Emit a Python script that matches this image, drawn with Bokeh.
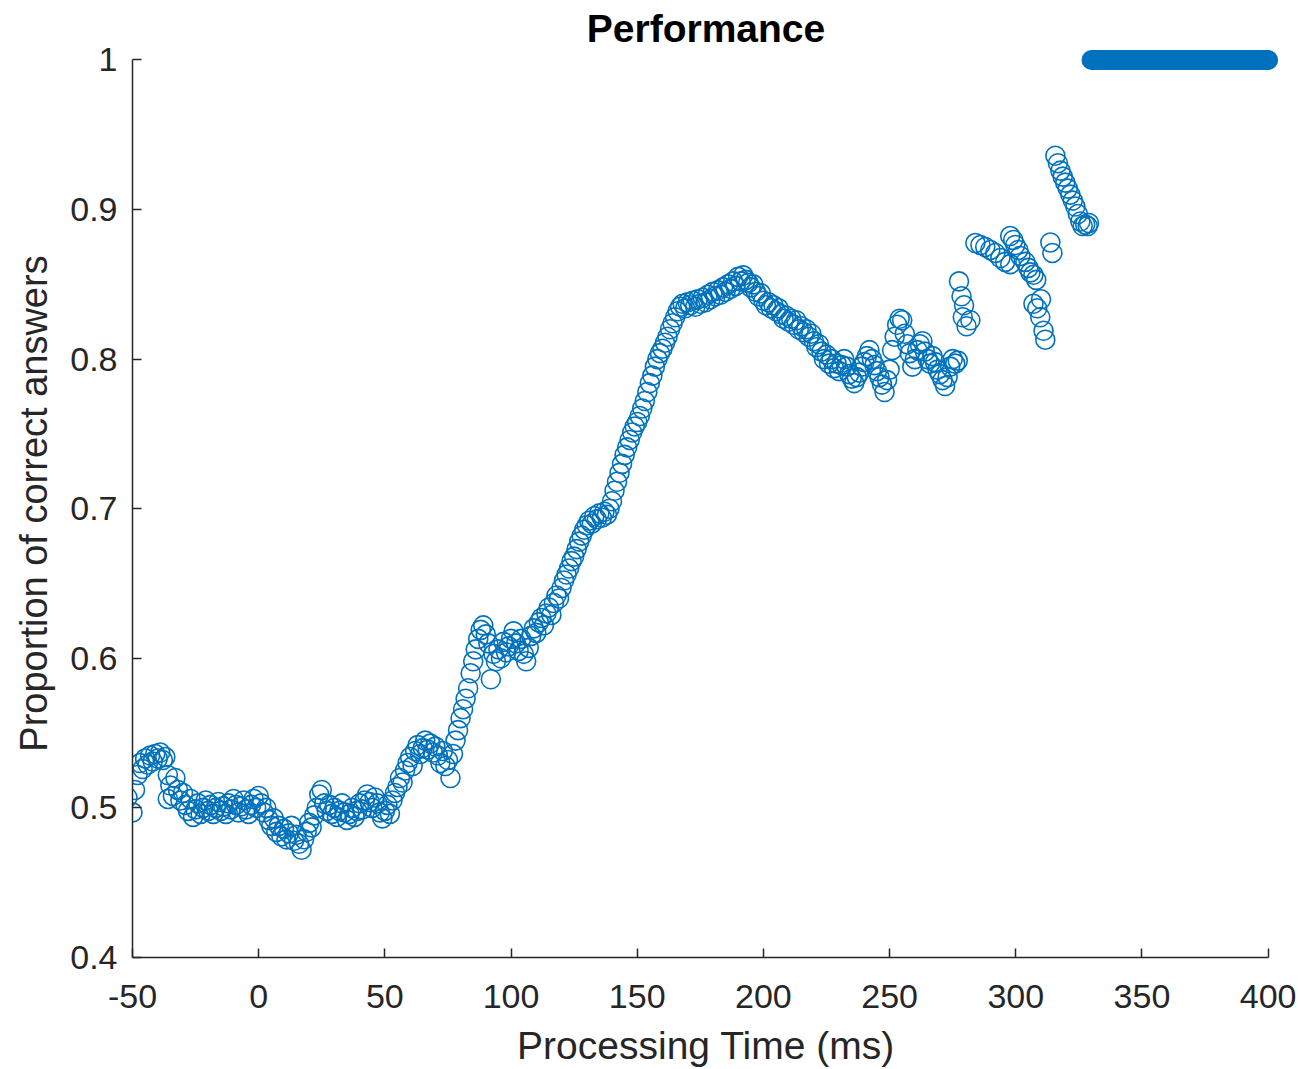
from bokeh.plotting import figure
from bokeh.models import Range1d, FixedTicker
from bokeh.embed import file_html
from bokeh.resources import INLINE

# ---- data ----
time_ms = [
    -52, -50, -49, -48, -47, -46, -45, -44, -43, -42, -41, -40, -39, -38, -37, -36, -36, -35, -34, -33,
    -32, -31, -30, -29, -28, -27, -26, -25, -24, -23, -22, -21, -20, -19, -18, -17, -16, -15, -14, -13,
    -12, -11, -10, -9, -8, -7, -6, -5, -4, -3, -2, -1, 0, 1, 2, 3, 4, 5, 6, 7,
    8, 9, 10, 11, 12, 13, 14, 15, 16, 17, 18, 19, 20, 21, 22, 23, 24, 25, 26, 27,
    28, 29, 30, 31, 32, 33, 34, 35, 36, 37, 38, 39, 40, 41, 42, 43, 44, 45, 46, 47,
    48, 49, 50, 51, 52, 53, 54, 55, 56, 57, 58, 59, 60, 61, 62, 63, 64, 65, 66, 67,
    68, 69, 70, 71, 72, 73, 74, 75, 76, 77, 78, 79, 80, 81, 82, 83, 84, 85, 86, 87,
    88, 89, 90, 91, 92, 93, 94, 95, 96, 97, 98, 99, 100, 101, 102, 103, 104, 105, 106, 107,
    108, 109, 110, 111, 112, 113, 114, 115, 116, 117, 118, 119, 120, 121, 122, 123, 124, 125, 126, 127,
    128, 129, 130, 131, 132, 133, 134, 135, 136, 137, 138, 139, 140, 141, 142, 143, 144, 145, 146, 147,
    148, 149, 150, 151, 152, 153, 154, 155, 156, 157, 158, 159, 160, 161, 162, 163, 164, 165, 166, 167,
    168, 169, 170, 171, 172, 173, 174, 175, 176, 177, 178, 179, 180, 181, 182, 183, 184, 185, 186, 187,
    188, 189, 190, 191, 192, 193, 194, 195, 196, 197, 198, 199, 200, 201, 202, 203, 204, 205, 206, 207,
    208, 209, 210, 211, 212, 213, 214, 215, 216, 217, 218, 219, 220, 221, 222, 223, 224, 225, 226, 227,
    228, 229, 230, 231, 232, 233, 234, 235, 236, 237, 238, 239, 240, 241, 242, 243, 244, 245, 246, 247,
    248, 249, 250, 251, 252, 253, 254, 255, 256, 257, 258, 259, 260, 261, 262, 263, 264, 265, 266, 267,
    268, 269, 270, 271, 272, 273, 274, 275, 276, 277,
    277.5, 278.5, 279.5, 279, 280.5, 282,
    284.0, 286.0, 287.9, 289.9, 291.9, 293.9, 295.8, 297.8,
    297.8, 299.0, 299.8, 301.0, 301.8, 303.8, 305.0, 305.8, 307.0, 308.1,
    313.7, 314.5,
    307.0, 308.5, 309.7, 311.0, 311.7, 310.0,
    315.7, 316.7, 317.7, 318.6, 319.6, 320.6, 321.6, 322.6, 323.6, 324.6, 325.6, 326.5, 327.5, 328.5, 329.0,
]

prop_correct = [
    0.507, 0.497, 0.512, 0.522, 0.530, 0.526, 0.533, 0.529, 0.535, 0.531, 0.536, 0.533, 0.537, 0.532, 0.534, 0.522, 0.506, 0.515, 0.508, 0.520,
    0.512, 0.505, 0.510, 0.502, 0.498, 0.506, 0.494, 0.499, 0.503, 0.496, 0.500, 0.505, 0.498, 0.502, 0.496, 0.500, 0.504, 0.498, 0.501, 0.496,
    0.503, 0.499, 0.506, 0.502, 0.497, 0.501, 0.505, 0.499, 0.496, 0.502, 0.506, 0.500, 0.508, 0.503, 0.497, 0.500, 0.492, 0.488, 0.493, 0.484,
    0.488, 0.481, 0.486, 0.479, 0.483, 0.488, 0.478, 0.482, 0.476, 0.472, 0.479, 0.484, 0.490, 0.487, 0.495, 0.500, 0.509, 0.512, 0.503, 0.498,
    0.502, 0.496, 0.500, 0.494, 0.498, 0.503, 0.497, 0.492, 0.496, 0.500, 0.494, 0.498, 0.503, 0.499, 0.505, 0.509, 0.504, 0.500, 0.507, 0.503,
    0.497, 0.493, 0.498, 0.502, 0.496, 0.505, 0.510, 0.514, 0.520, 0.517, 0.525, 0.530, 0.534, 0.528, 0.538, 0.542, 0.536, 0.540, 0.545, 0.539,
    0.543, 0.537, 0.541, 0.535, 0.530, 0.538, 0.528, 0.532, 0.520, 0.536, 0.545, 0.552, 0.560, 0.566, 0.573, 0.580, 0.590, 0.598, 0.606, 0.613,
    0.619, 0.622, 0.616, 0.610, 0.586, 0.603, 0.598, 0.606, 0.600, 0.611, 0.604, 0.608, 0.613, 0.618, 0.610, 0.605, 0.613, 0.603, 0.598, 0.607,
    0.615, 0.620, 0.617, 0.624, 0.627, 0.622, 0.630, 0.634, 0.629, 0.637, 0.642, 0.640, 0.647, 0.652, 0.656, 0.660, 0.665, 0.668, 0.673, 0.678,
    0.682, 0.686, 0.689, 0.692, 0.690, 0.695, 0.693, 0.697, 0.694, 0.698, 0.696, 0.700, 0.705, 0.712, 0.718, 0.724, 0.730, 0.736, 0.741, 0.746,
    0.751, 0.755, 0.758, 0.762, 0.767, 0.772, 0.778, 0.784, 0.789, 0.795, 0.800, 0.804, 0.807, 0.811, 0.815, 0.820, 0.824, 0.828, 0.832, 0.835,
    0.837, 0.834, 0.838, 0.836, 0.839, 0.835, 0.840, 0.837, 0.841, 0.838, 0.843, 0.840, 0.845, 0.842, 0.846, 0.843, 0.848, 0.845, 0.850, 0.847,
    0.852, 0.849, 0.855, 0.852, 0.856, 0.853, 0.851, 0.848, 0.850, 0.845, 0.842, 0.844, 0.839, 0.836, 0.838, 0.834, 0.836, 0.832, 0.834, 0.830,
    0.827, 0.829, 0.825, 0.827, 0.823, 0.826, 0.820, 0.822, 0.818, 0.820, 0.815, 0.817, 0.812, 0.808, 0.810, 0.805, 0.800, 0.803, 0.797, 0.800,
    0.794, 0.797, 0.792, 0.796, 0.800, 0.795, 0.790, 0.787, 0.784, 0.788, 0.791, 0.795, 0.798, 0.802, 0.806, 0.800, 0.796, 0.792, 0.788, 0.783,
    0.778, 0.786, 0.793, 0.806, 0.815, 0.823, 0.827, 0.826, 0.817, 0.810, 0.804, 0.795, 0.800, 0.806, 0.810, 0.812, 0.805, 0.800, 0.797, 0.802,
    0.798, 0.793, 0.790, 0.786, 0.782, 0.788, 0.795, 0.800, 0.797, 0.799,
    0.852, 0.842, 0.836, 0.828, 0.822, 0.826,
    0.8776, 0.8763, 0.875, 0.873, 0.871, 0.8676, 0.865, 0.8635,
    0.8823, 0.8797, 0.8763, 0.873, 0.869, 0.865, 0.861, 0.858, 0.8564, 0.853,
    0.878, 0.871,
    0.837, 0.834, 0.828, 0.819, 0.813, 0.840,
    0.936, 0.931, 0.926, 0.922, 0.918, 0.914, 0.910, 0.906, 0.902, 0.897, 0.892, 0.889, 0.890, 0.889, 0.891,
]

# significance bar (time window where performance is significant)
sig_start = [330]
sig_end = [400]
sig_level = [1.0]

x_ticks = [-50, 0, 50, 100, 150, 200, 250, 300, 350, 400]
x_tick_labels = ["-50", "0", "50", "100", "150", "200", "250", "300", "350", "400"]
y_ticks = [0.4, 0.5, 0.6, 0.7, 0.8, 0.9, 1.0]
y_tick_labels = ["0.4", "0.5", "0.6", "0.7", "0.8", "0.9", "1"]

BLUE = "#0072BD"
AXC = "#262626"
FONT = "Liberation Sans"

p = figure(
    frame_width=1147, frame_height=908,
    x_range=Range1d(-50, 404.5), y_range=Range1d(0.4, 1.007),
    output_backend="svg", toolbar_location=None,
    min_border_left=132, min_border_right=19, min_border_top=49, min_border_bottom=112,
    title="Performance",
)
p.outline_line_color = None
p.xgrid.visible = False
p.ygrid.visible = False
p.background_fill_color = "white"
p.border_fill_color = "white"

p.title.text_font = FONT
p.title.text_font_size = "39px"
p.title.text_font_style = "bold"
p.title.text_color = "black"
p.title.align = "center"
p.title.standoff = 0
p.title.offset = -7

for ax in (p.xaxis[0], p.yaxis[0]):
    ax.axis_line_color = AXC
    ax.axis_line_width = 1.5
    ax.major_tick_line_color = AXC
    ax.major_tick_line_width = 1.5
    ax.major_tick_in = 9
    ax.major_tick_out = 0
    ax.minor_tick_line_color = None
    ax.major_label_text_font = FONT
    ax.major_label_text_font_size = "34px"
    ax.major_label_text_color = AXC
    ax.axis_label_text_font = FONT
    ax.axis_label_text_font_style = "normal"
    ax.axis_label_text_color = AXC

p.xaxis.bounds = (-50, 400)
p.yaxis.bounds = (0.4, 1.0)
p.xaxis.ticker = FixedTicker(ticks=x_ticks)
p.yaxis.ticker = FixedTicker(ticks=y_ticks)
p.xaxis.major_label_overrides = {t: s for t, s in zip(x_ticks, x_tick_labels)}
p.yaxis.major_label_overrides = {t: s for t, s in zip(y_ticks, y_tick_labels)}
p.xaxis.axis_label = "Processing Time (ms)"
p.yaxis.axis_label = "Proportion of correct answers"
p.xaxis.axis_label_text_font_size = "39px"
p.yaxis.axis_label_text_font_size = "38px"
p.xaxis.major_label_standoff = 27
p.xaxis.axis_label_standoff = 13
p.yaxis.major_label_standoff = 15
p.yaxis.axis_label_standoff = 12

p.segment(x0=sig_start, y0=sig_level, x1=sig_end, y1=sig_level,
          line_color=BLUE, line_width=20, line_cap="round")

p.scatter(x=time_ms, y=prop_correct, marker="circle", size=19,
          fill_color=None, line_color=BLUE, line_width=1.6)

open("out.html", "w").write(file_html(p, INLINE))
